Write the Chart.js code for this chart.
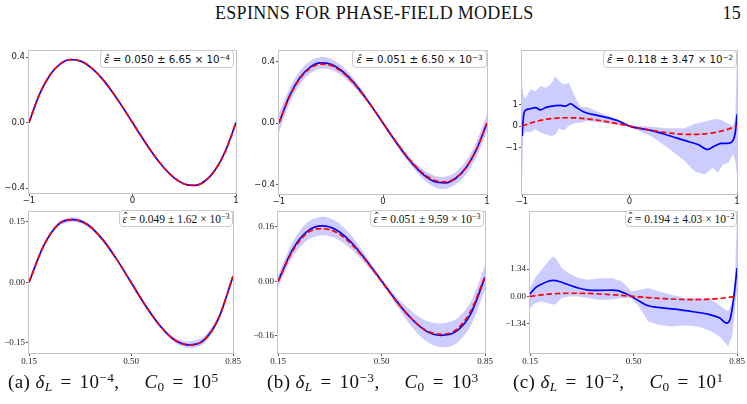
<!DOCTYPE html>
<html>
<head>
<meta charset="utf-8">
<script src="https://cdn.jsdelivr.net/npm/chart.js@4.4.0/dist/chart.umd.min.js"></script>
<style>
body { margin:0; width:747px; height:404px; background:#fff; position:relative; overflow:hidden; }
canvas { position:absolute; }
.hdr { position:absolute; font-family:'Liberation Serif', serif; font-size:18px; letter-spacing:0.3px; color:#111; white-space:nowrap; }
.box { position:absolute; background:#fff; border:1px solid #cccccc; border-radius:4px; white-space:nowrap; color:#111; box-sizing:border-box; text-align:center; }
.sans { font-family:'DejaVu Sans', sans-serif; font-size:10.2px; height:18px; line-height:18px; }
.serif { font-family:'Liberation Serif', serif; font-size:11.5px; height:17px; line-height:17px; }
.eh { position:relative; font-style:italic; }
.eh::after { content:'\02C6'; position:absolute; left:0.12em; top:-0.32em; font-style:normal; }
.cap { position:absolute; font-family:'Liberation Serif', serif; font-size:19px; letter-spacing:0.4px; white-space:nowrap; color:#111; top:371px; }
.sp { display:inline-block; width:0.42em; }
.qd { display:inline-block; width:25px; }
sup { font-size:70%; vertical-align:0.45em; line-height:0; }
sub { font-size:70%; vertical-align:-0.25em; line-height:0; }
</style>
</head>
<body>
<div class="hdr" style="left:215px; top:3px;">ESPINNS FOR PHASE-FIELD MODELS</div>
<div class="hdr" style="right:6px; top:3px;">15</div>

<canvas id="aTop"></canvas>
<canvas id="bTop"></canvas>
<canvas id="cTop"></canvas>
<canvas id="aBot"></canvas>
<canvas id="bBot"></canvas>
<canvas id="cBot"></canvas>

<div class="box sans" style="left:100px; top:50px; width:134px;"><span class="eh">ε</span> = 0.050 ± 6.65 × 10<sup>−4</sup></div>
<div class="box sans" style="left:352px; top:50px; width:135px;"><span class="eh">ε</span> = 0.051 ± 6.50 × 10<sup>−3</sup></div>
<div class="box sans" style="left:603px; top:50px; width:134px;"><span class="eh">ε</span> = 0.118 ± 3.47 × 10<sup>−2</sup></div>
<div class="box serif" style="left:119px; top:210px; width:114px;"><span class="eh">ε</span> = 0.049 ± 1.62 × 10<sup>−3</sup></div>
<div class="box serif" style="left:370px; top:210px; width:114px;"><span class="eh">ε</span> = 0.051 ± 9.59 × 10<sup>−3</sup></div>
<div class="box serif" style="left:625px; top:210px; width:112px;"><span class="eh">ε</span> = 0.194 ± 4.03 × 10<sup>−2</sup></div>

<div class="cap" style="left:8px;">(a) <i>δ</i><sub><i>L</i></sub><span class="sp"></span>=<span class="sp"></span>10<sup>−4</sup>,<span class="qd"></span><i>C</i><sub>0</sub><span class="sp"></span>=<span class="sp"></span>10<sup>5</sup></div>
<div class="cap" style="left:267px;">(b) <i>δ</i><sub><i>L</i></sub><span class="sp"></span>=<span class="sp"></span>10<sup>−3</sup>,<span class="qd"></span><i>C</i><sub>0</sub><span class="sp"></span>=<span class="sp"></span>10<sup>3</sup></div>
<div class="cap" style="left:513px;">(c) <i>δ</i><sub><i>L</i></sub><span class="sp"></span>=<span class="sp"></span>10<sup>−2</sup>,<span class="qd"></span><i>C</i><sub>0</sub><span class="sp"></span>=<span class="sp"></span>10<sup>1</sup></div>

<script>
// ---- data ----
// top row: x in [-1, 1]
var topX = [-1, -0.9, -0.8, -0.7, -0.6, -0.5, -0.4, -0.3, -0.2, -0.1, 0, 0.1, 0.2, 0.3, 0.4, 0.5, 0.6, 0.7, 0.8, 0.9, 1];
var topRef = [0, 0.171, 0.288, 0.357, 0.384, 0.375, 0.336, 0.273, 0.192, 0.099, 0, -0.099, -0.192, -0.273, -0.336, -0.375, -0.384, -0.357, -0.288, -0.171, 0];
var aTopPred = [0, 0.171, 0.288, 0.357, 0.384, 0.375, 0.336, 0.273, 0.192, 0.099, 0, -0.099, -0.192, -0.273, -0.336, -0.375, -0.384, -0.357, -0.288, -0.171, 0];
var bTopPred = [0, 0.175, 0.295, 0.365, 0.393, 0.384, 0.343, 0.278, 0.195, 0.1, 0, -0.1, -0.195, -0.278, -0.343, -0.383, -0.39, -0.36, -0.29, -0.17, 0];
var bTopUp = [0.065, 0.225, 0.34, 0.405, 0.43, 0.42, 0.375, 0.305, 0.215, 0.11, 0.01, -0.085, -0.175, -0.255, -0.31, -0.345, -0.35, -0.32, -0.245, -0.12, 0.055];
var bTopLo = [-0.06, 0.125, 0.25, 0.325, 0.355, 0.348, 0.31, 0.25, 0.175, 0.09, -0.01, -0.115, -0.215, -0.3, -0.375, -0.42, -0.43, -0.4, -0.335, -0.22, -0.055];

var cTopX = [-1, -0.984, -0.969, -0.922, -0.875, -0.829, -0.782, -0.735, -0.642, -0.595, -0.548, -0.502, -0.424, -0.268, -0.112, 0, 0.199, 0.355, 0.511, 0.636, 0.729, 0.791, 0.854, 0.916, 0.963, 0.984, 1];
var cTopPred = [-0.46, 0.54, 0.72, 0.8, 0.85, 0.75, 0.85, 0.91, 0.95, 0.92, 1.03, 0.88, 0.65, 0.46, 0.26, 0, -0.2, -0.42, -0.66, -0.85, -1.08, -0.92, -0.8, -0.8, -0.66, -0.3, 0.54];
var cTopBandX = [-1, -0.99, -0.969, -0.922, -0.875, -0.829, -0.782, -0.735, -0.688, -0.657, -0.611, -0.566, -0.502, -0.455, -0.393, -0.268, -0.112, 0, 0.199, 0.355, 0.511, 0.604, 0.698, 0.776, 0.822, 0.869, 0.916, 0.963, 0.984, 1];
var cTopUp = [2.0, 1.5, 1.25, 1.7, 1.6, 1.85, 1.77, 1.92, 2.3, 2.08, 1.92, 2.0, 1.3, 0.88, 0.88, 0.6, 0.3, 0.03, -0.03, -0.1, -0.1, 0.1, 0.2, 0.3, 0.33, 0.25, 0.12, 0.0, 0.4, 3.16];
var cTopLo = [-2.83, -0.5, -0.25, -0.3, -0.15, -0.3, -0.38, -0.46, -0.4, -0.1, -0.2, 0, 0.15, 0.15, 0.23, 0.15, 0.05, -0.03, -0.46, -1.0, -1.6, -2.08, -2.23, -1.92, -2.15, -1.77, -1.7, -1.3, -1.6, -2.3];

// bottom row: x in [0.15, 0.85]
var botX = [0.15, 0.2, 0.25, 0.3, 0.35, 0.4, 0.45, 0.5, 0.55, 0.6, 0.65, 0.7, 0.75, 0.8, 0.85];
var botRef = [0, 0.09, 0.143, 0.155, 0.143, 0.108, 0.058, 0, -0.058, -0.108, -0.143, -0.155, -0.143, -0.09, 0.015];
var aBotPred = [0, 0.09, 0.143, 0.155, 0.143, 0.108, 0.058, 0, -0.058, -0.108, -0.143, -0.155, -0.143, -0.09, 0.015];
var aBotUp = [0.003, 0.094, 0.148, 0.161, 0.148, 0.112, 0.061, 0.003, -0.055, -0.104, -0.137, -0.146, -0.134, -0.083, 0.022];
var aBotLo = [-0.003, 0.086, 0.138, 0.149, 0.138, 0.104, 0.055, -0.003, -0.061, -0.112, -0.149, -0.163, -0.152, -0.097, 0.008];
var bBotPred = [0, 0.095, 0.148, 0.163, 0.15, 0.113, 0.06, 0.002, -0.057, -0.108, -0.145, -0.158, -0.148, -0.098, 0.012];
var bBotUp = [0.017, 0.117, 0.174, 0.19, 0.175, 0.133, 0.072, 0.008, -0.045, -0.086, -0.115, -0.123, -0.112, -0.063, 0.048];
var bBotLo = [-0.017, 0.073, 0.122, 0.136, 0.125, 0.093, 0.048, -0.004, -0.069, -0.13, -0.175, -0.193, -0.184, -0.133, -0.024];

var cBotX = [0.15, 0.167, 0.189, 0.212, 0.229, 0.246, 0.280, 0.313, 0.347, 0.381, 0.426, 0.448, 0.471, 0.493, 0.522, 0.550, 0.584, 0.640, 0.696, 0.752, 0.792, 0.814, 0.826, 0.834, 0.843, 0.85];
var cBotPred = [0.11, 0.41, 0.6, 0.74, 0.78, 0.74, 0.57, 0.41, 0.31, 0.29, 0.31, 0.28, 0.15, 0, -0.25, -0.46, -0.54, -0.62, -0.74, -0.87, -1.06, -1.31, -1.14, -0.57, 0.41, 1.39];
var cBotBandX = [0.15, 0.167, 0.189, 0.212, 0.229, 0.24, 0.257, 0.280, 0.313, 0.347, 0.381, 0.426, 0.459, 0.493, 0.522, 0.550, 0.584, 0.629, 0.674, 0.719, 0.764, 0.797, 0.82, 0.834, 0.843, 0.85];
var cBotUp = [0.41, 0.9, 1.31, 1.72, 1.96, 1.8, 1.39, 1.14, 0.9, 0.82, 0.87, 0.9, 0.74, 0.25, 0.33, 0.41, 0.25, 0.08, -0.08, -0.08, -0.16, -0.49, -0.74, -0.25, 1.0, 3.8];
var cBotLo = [-0.57, -0.33, -0.25, -0.33, -0.41, -0.33, -0.08, 0, 0, -0.08, -0.16, -0.16, -0.08, -0.08, -0.57, -1.23, -1.39, -1.47, -1.42, -1.47, -1.72, -2.04, -2.45, -1.9, -0.6, 0.3];

// tick values and labels
var topXTicks = [-1, 0, 1];
var topXLabels = ['−1', '0', '1'];
var botXTicks = [0.15, 0.5, 0.85];
var botXLabels = ['0.15', '0.50', '0.85'];
var abTopYTicks = [-0.4, 0, 0.4];
var abTopYLabels = ['−0.4', '0.0', '0.4'];
var cTopYTicks = [-1, 0, 1];
var cTopYLabels = ['−1', '0', '1'];
var aBotYTicks = [-0.15, 0, 0.15];
var aBotYLabels = ['−0.15', '0.00', '0.15'];
var bBotYTicks = [-0.16, 0, 0.16];
var bBotYLabels = ['−0.16', '0.00', '0.16'];
var cBotYTicks = [-1.34, 0, 1.34];
var cBotYLabels = ['−1.34', '0.00', '1.34'];

// ---- helpers ----
var PADL = 30, PADR = 8, PADT = 8, PADB = 18;

function pts(xs, ys) {
  return xs.map(function (x, i) { return { x: x, y: ys[i] }; });
}

// grey box round the plot area
var framePlugin = {
  id: 'frame',
  afterDatasetsDraw: function (chart) {
    var a = chart.chartArea, c = chart.ctx;
    c.save();
    c.strokeStyle = '#c4c4c4';
    c.lineWidth = 1;
    c.strokeRect(Math.round(a.left) - 0.5, Math.round(a.top) - 0.5, Math.round(a.right - a.left) + 1, Math.round(a.bottom - a.top) + 1);
    c.restore();
  }
};

function panel(id, p) {
  var cv = document.getElementById(id);
  var w = p.right - p.left, h = p.bottom - p.top;
  cv.width = w + PADL + PADR;
  cv.height = h + PADT + PADB;
  cv.style.left = (p.left - PADL) + 'px';
  cv.style.top = (p.top - PADT) + 'px';

  var datasets = [
    { data: pts(p.refX, p.ref), borderColor: '#ff0000', borderWidth: 1.7, borderDash: [5.5, 2.8], pointRadius: 0, fill: false, cubicInterpolationMode: 'monotone' },
    { data: pts(p.predX, p.pred), borderColor: '#0000ff', borderWidth: 1.7, pointRadius: 0, fill: false, cubicInterpolationMode: 'monotone' }
  ];
  if (p.up) {
    datasets.push({ data: pts(p.bandX, p.up), borderWidth: 0, borderColor: 'rgba(0,0,0,0)', pointRadius: 0, fill: '+1', backgroundColor: 'rgba(0,0,255,0.2)', tension: p.bandTension });
    datasets.push({ data: pts(p.bandX, p.lo), borderWidth: 0, borderColor: 'rgba(0,0,0,0)', pointRadius: 0, fill: false, tension: p.bandTension });
  }

  var tickFont = { family: p.font, size: p.fontSize };
  return new Chart(cv.getContext('2d'), {
    type: 'line',
    data: { datasets: datasets },
    options: {
      responsive: false,
      animation: false,
      devicePixelRatio: 1,
      layout: { padding: { left: 0, right: PADR, top: PADT, bottom: 0 } },
      plugins: { legend: { display: false }, tooltip: { enabled: false } },
      scales: {
        x: {
          type: 'linear', min: p.xMin, max: p.xMax,
          afterBuildTicks: function (s) { s.ticks = p.xTicks.map(function (v) { return { value: v }; }); },
          afterFit: function (s) { s.height = PADB; },
          ticks: { autoSkip: false, maxRotation: 0, minRotation: 0, padding: 0, color: '#222', font: tickFont,
                   callback: function (v, i) { return p.xLabels[i]; } },
          grid: { display: true, drawOnChartArea: false, drawTicks: true, tickLength: 3, tickColor: '#333', tickWidth: 0.8 },
          border: { display: false }
        },
        y: {
          min: p.yMin, max: p.yMax,
          afterBuildTicks: function (s) { s.ticks = p.yTicks.map(function (v) { return { value: v }; }); },
          afterFit: function (s) { s.width = PADL; },
          ticks: { autoSkip: false, padding: 1, color: '#222', font: tickFont,
                   callback: function (v, i) { return p.yLabels[i]; } },
          grid: { display: true, drawOnChartArea: false, drawTicks: true, tickLength: 3, tickColor: '#333', tickWidth: 0.8 },
          border: { display: false }
        }
      }
    },
    plugins: [framePlugin]
  });
}

var SANS = "'DejaVu Sans', sans-serif";
var SERIF = "'Liberation Serif', serif";

// TOP ROW
panel('aTop', { left: 29, right: 236, top: 51, bottom: 193, xMin: -1, xMax: 1, yMin: -0.43, yMax: 0.437,
  xTicks: topXTicks, xLabels: topXLabels, yTicks: abTopYTicks, yLabels: abTopYLabels, font: SANS, fontSize: 8.5,
  refX: topX, ref: topRef, predX: topX, pred: aTopPred });
panel('bTop', { left: 279, right: 487, top: 51, bottom: 194, xMin: -1, xMax: 1, yMin: -0.463, yMax: 0.47,
  xTicks: topXTicks, xLabels: topXLabels, yTicks: abTopYTicks, yLabels: abTopYLabels, font: SANS, fontSize: 8.5,
  refX: topX, ref: topRef, predX: topX, pred: bTopPred, bandX: topX, up: bTopUp, lo: bTopLo, bandTension: 0.3 });
panel('cTop', { left: 522, right: 737, top: 51, bottom: 194, xMin: -1, xMax: 1, yMin: -3.13, yMax: 3.46,
  xTicks: topXTicks, xLabels: topXLabels, yTicks: cTopYTicks, yLabels: cTopYLabels, font: SANS, fontSize: 8.5,
  refX: topX, ref: topRef, predX: cTopX, pred: cTopPred, bandX: cTopBandX, up: cTopUp, lo: cTopLo, bandTension: 0 });

// BOTTOM ROW
panel('aBot', { left: 29, right: 233, top: 212, bottom: 353, xMin: 0.15, xMax: 0.85, yMin: -0.175, yMax: 0.174,
  xTicks: botXTicks, xLabels: botXLabels, yTicks: aBotYTicks, yLabels: aBotYLabels, font: SERIF, fontSize: 9,
  refX: botX, ref: botRef, predX: botX, pred: aBotPred, bandX: botX, up: aBotUp, lo: aBotLo, bandTension: 0.3 });
panel('bBot', { left: 278, right: 485, top: 212, bottom: 353, xMin: 0.15, xMax: 0.85, yMin: -0.21, yMax: 0.204,
  xTicks: botXTicks, xLabels: botXLabels, yTicks: bBotYTicks, yLabels: bBotYLabels, font: SERIF, fontSize: 9,
  refX: botX, ref: botRef, predX: botX, pred: bBotPred, bandX: botX, up: bBotUp, lo: bBotLo, bandTension: 0.3 });
panel('cBot', { left: 530, right: 737, top: 212, bottom: 353, xMin: 0.15, xMax: 0.85, yMin: -2.77, yMax: 4.13,
  xTicks: botXTicks, xLabels: botXLabels, yTicks: cBotYTicks, yLabels: cBotYLabels, font: SERIF, fontSize: 9,
  refX: botX, ref: botRef, predX: cBotX, pred: cBotPred, bandX: cBotBandX, up: cBotUp, lo: cBotLo, bandTension: 0 });
</script>
</body>
</html>
